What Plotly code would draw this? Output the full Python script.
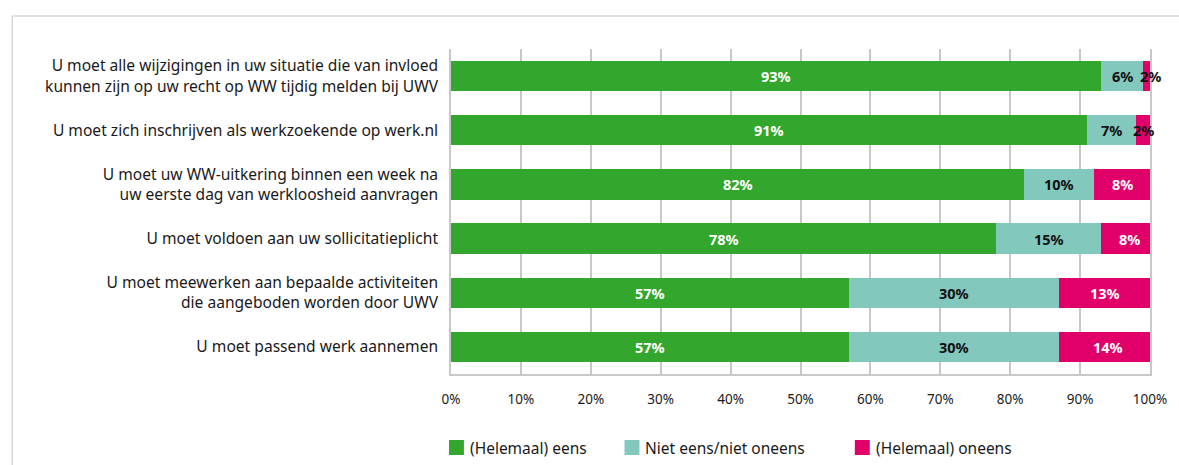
import plotly.graph_objects as go

# Stellingen over de verplichtingen bij een WW-uitkering
categories = [
    "U moet alle wijzigingen in uw situatie die van invloed<br>kunnen zijn op uw recht op WW tijdig melden bij UWV",
    "U moet zich inschrijven als werkzoekende op werk.nl",
    "U moet uw WW-uitkering binnen een week na<br>uw eerste dag van werkloosheid aanvragen",
    "U moet voldoen aan uw sollicitatieplicht",
    "U moet meewerken aan bepaalde activiteiten<br>die aangeboden worden door UWV",
    "U moet passend werk aannemen",
]
eens = [93, 91, 82, 78, 57, 57]
neutraal = [6, 7, 10, 15, 30, 30]
oneens = [2, 2, 8, 8, 13, 14]

series_names = ["(Helemaal) eens", "Niet eens/niet oneens", "(Helemaal) oneens"]
tick_values = [0, 10, 20, 30, 40, 50, 60, 70, 80, 90, 100]
tick_labels = ["0%", "10%", "20%", "30%", "40%", "50%", "60%", "70%", "80%", "90%", "100%"]

colors = ["#33A62D", "#82C8BD", "#E1006A"]
label_colors = ["white", "#111111", "white"]
FONT = "Noto Sans"
TEXT = "#1a1a1a"

fig = go.Figure()
series = [eens, neutraal, oneens]
for name, vals, col in zip(series_names, series, colors):
    fig.add_trace(go.Bar(
        y=categories, x=vals, name=name, orientation="h",
        marker=dict(color=col, line=dict(width=0)), width=0.56,
        hoverinfo="skip", showlegend=False,
    ))

# Percentage labels centred on each segment
annotations = []
for i, cat in enumerate(categories):
    start = 0
    for s, vals in enumerate(series):
        v = vals[i]
        mid = start + v / 2
        col = label_colors[s] if v >= 5 else "#111111"
        annotations.append(dict(
            x=mid, y=cat, xref="x", yref="y", text=f"{v}%", showarrow=False,
            font=dict(family=FONT, size=14.5, color=col, weight="bold"),
            xanchor="center", yanchor="middle",
        ))
        start += v

# Legend below the axis: coloured square + label per series
shapes = [dict(
    type="rect", xref="paper", yref="paper",
    x0=-0.6277, x1=1.2, y0=-0.4, y1=1.1015,
    line=dict(color="#d9d9d9", width=1.5), fillcolor="rgba(0,0,0,0)", layer="below",
)]
legend_x = [-0.0029, 0.2482, 0.5777]
sq_w = 0.0214
for name, col, lx in zip(series_names, colors, legend_x):
    shapes.append(dict(
        type="rect", xref="paper", yref="paper",
        x0=lx, x1=lx + sq_w, y0=-0.2492, y1=-0.2031,
        line=dict(width=0), fillcolor=col,
    ))
    annotations.append(dict(
        x=lx + sq_w + 0.0057, y=-0.2262, xref="paper", yref="paper",
        text=name, showarrow=False, xanchor="left", yanchor="middle",
        font=dict(family=FONT, size=15.5, color=TEXT),
    ))

fig.update_layout(
    barmode="stack",
    width=1179, height=465,
    margin=dict(l=451, r=27, t=49, b=91),
    paper_bgcolor="white", plot_bgcolor="white",
    font=dict(family=FONT, size=15, color=TEXT),
    annotations=annotations,
    shapes=shapes,
    showlegend=False,
)

fig.update_xaxes(
    range=[0, 100], tickvals=tick_values, ticktext=tick_labels,
    showgrid=True, gridcolor="#c8c8c8", gridwidth=1.5,
    showline=True, linecolor="#c8c8c8", linewidth=1.5,
    zeroline=False, ticks="", ticklabelstandoff=12,
    tickfont=dict(family=FONT, size=13.5, color=TEXT),
    fixedrange=True,
)
fig.update_yaxes(
    autorange="reversed", showgrid=False,
    showline=True, mirror=True, linecolor="#c8c8c8", linewidth=1.5,
    ticks="", ticklabelstandoff=8,
    tickfont=dict(family=FONT, size=15.6, color=TEXT),
    fixedrange=True,
)

fig.write_html("out.html", config={"displayModeBar": False})
